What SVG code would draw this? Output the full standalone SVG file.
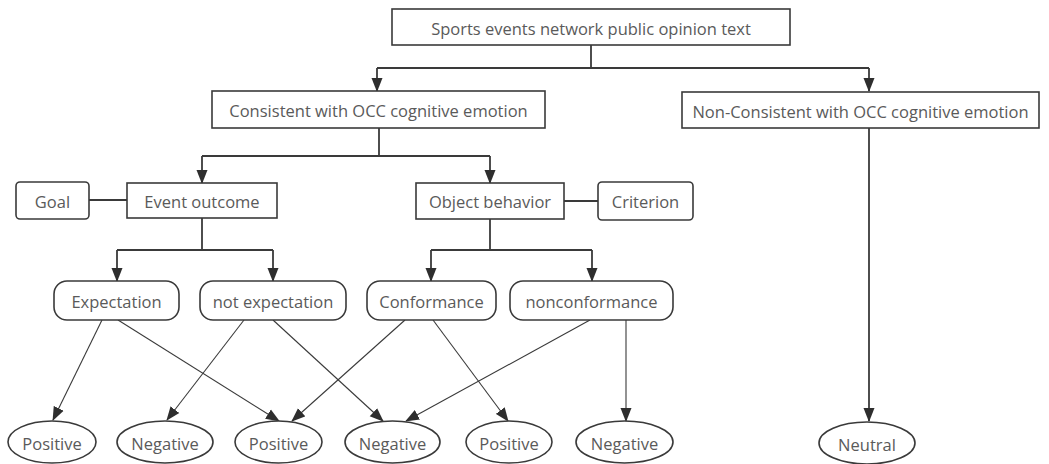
<svg xmlns="http://www.w3.org/2000/svg" width="1049" height="464" viewBox="0 0 1049 464">
  <defs>
    <style>
      .box { fill: #ffffff; stroke: #3a3a3a; stroke-width: 1.6; }
      .lbl { font-family: "Open Sans", "Noto Sans", "Liberation Sans", sans-serif; font-size: 16.5px; fill: #5a5a5a; text-anchor: middle; dominant-baseline: central; }
      .tree { fill: none; stroke: #3a3a3a; stroke-width: 1.8; }
      .diag { fill: none; stroke: #3a3a3a; stroke-width: 1.1; }
    </style>
    <marker id="arrowBig" viewBox="0 0 14 12" refX="13" refY="6" markerWidth="14" markerHeight="12" markerUnits="userSpaceOnUse" orient="auto">
      <path d="M0,0.5 L14,6 L0,11.5 Z" fill="#2e2e2e"/>
    </marker>
    <marker id="arrowSmall" viewBox="0 0 14 12" refX="13" refY="6" markerWidth="14" markerHeight="12" markerUnits="userSpaceOnUse" orient="auto">
      <path d="M0,0.5 L14,6 L0,11.5 Z" fill="#2e2e2e"/>
    </marker>
  </defs>
  <rect width="1049" height="464" fill="#ffffff"/>

  <g id="connectors">
    <!-- root split -->
    <path class="tree" d="M591,45 V68"/>
    <path class="tree" d="M377,68 H869"/>
    <path class="tree" d="M377,68 V91" marker-end="url(#arrowBig)"/>
    <path class="tree" d="M869,68 V91" marker-end="url(#arrowBig)"/>
    <!-- consistent branch -->
    <path class="tree" d="M379,128 V156"/>
    <path class="tree" d="M202,156 H490"/>
    <path class="tree" d="M202,156 V183" marker-end="url(#arrowBig)"/>
    <path class="tree" d="M490,156 V183" marker-end="url(#arrowBig)"/>
    <!-- side links -->
    <path class="tree" d="M89,200 H127"/>
    <path class="tree" d="M564,201 H598"/>
    <!-- event outcome split -->
    <path class="tree" d="M202,218 V250"/>
    <path class="tree" d="M117,250 H273"/>
    <path class="tree" d="M117,250 V281" marker-end="url(#arrowBig)"/>
    <path class="tree" d="M273,250 V281" marker-end="url(#arrowBig)"/>
    <!-- object behavior split -->
    <path class="tree" d="M490,219 V250"/>
    <path class="tree" d="M431,250 H592"/>
    <path class="tree" d="M431,250 V281" marker-end="url(#arrowBig)"/>
    <path class="tree" d="M592,250 V281" marker-end="url(#arrowBig)"/>
    <!-- non-consistent to neutral -->
    <path class="tree" d="M869,128 V421" marker-end="url(#arrowBig)"/>
    <!-- appraisal to polarity -->
    <path class="diag" d="M102,320 L53,420" marker-end="url(#arrowSmall)"/>
    <path class="diag" d="M118,320 L279,421" marker-end="url(#arrowSmall)"/>
    <path class="diag" d="M244,320 L167,420" marker-end="url(#arrowSmall)"/>
    <path class="diag" d="M273,320 L383,421" marker-end="url(#arrowSmall)"/>
    <path class="diag" d="M405,320 L292,421" marker-end="url(#arrowSmall)"/>
    <path class="diag" d="M433,320 L508,421" marker-end="url(#arrowSmall)"/>
    <path class="diag" d="M590,320 L406,421" marker-end="url(#arrowSmall)"/>
    <path class="diag" d="M626,320 L626,421" marker-end="url(#arrowSmall)"/>
  </g>

  <g id="root">
    <rect class="box" x="392" y="9" width="398" height="36"/>
    <text class="lbl" x="591" y="28">Sports events network public opinion text</text>
  </g>
  <g id="consistent">
    <rect class="box" x="212" y="91" width="333" height="37"/>
    <text class="lbl" x="378.5" y="110">Consistent with OCC cognitive emotion</text>
  </g>
  <g id="non-consistent">
    <rect class="box" x="682" y="92" width="357" height="36"/>
    <text class="lbl" x="860.5" y="111">Non-Consistent with OCC cognitive emotion</text>
  </g>
  <g id="goal">
    <rect class="box" x="16" y="182" width="73" height="37" rx="4"/>
    <text class="lbl" x="52.5" y="201">Goal</text>
  </g>
  <g id="event-outcome">
    <rect class="box" x="127" y="183" width="150" height="35"/>
    <text class="lbl" x="202" y="201">Event outcome</text>
  </g>
  <g id="object-behavior">
    <rect class="box" x="416" y="183" width="148" height="36"/>
    <text class="lbl" x="490" y="201">Object behavior</text>
  </g>
  <g id="criterion">
    <rect class="box" x="598" y="182" width="95" height="38" rx="4"/>
    <text class="lbl" x="645.5" y="201">Criterion</text>
  </g>
  <g id="expectation">
    <rect class="box" x="54" y="281" width="125" height="39" rx="13"/>
    <text class="lbl" x="116.5" y="301">Expectation</text>
  </g>
  <g id="not-expectation">
    <rect class="box" x="200" y="281" width="146" height="39" rx="13"/>
    <text class="lbl" x="273" y="301">not expectation</text>
  </g>
  <g id="conformance">
    <rect class="box" x="367" y="281" width="129" height="39" rx="13"/>
    <text class="lbl" x="431.5" y="301">Conformance</text>
  </g>
  <g id="nonconformance">
    <rect class="box" x="510" y="281" width="163" height="39" rx="13"/>
    <text class="lbl" x="591.5" y="301">nonconformance</text>
  </g>
  <g id="positive-1">
    <ellipse class="box" cx="52" cy="442" rx="44" ry="21"/>
    <text class="lbl" x="52" y="443">Positive</text>
  </g>
  <g id="negative-1">
    <ellipse class="box" cx="165" cy="442" rx="48" ry="21"/>
    <text class="lbl" x="165" y="443">Negative</text>
  </g>
  <g id="positive-2">
    <ellipse class="box" cx="278.5" cy="442" rx="43.5" ry="21"/>
    <text class="lbl" x="278.5" y="443">Positive</text>
  </g>
  <g id="negative-2">
    <ellipse class="box" cx="392.5" cy="442" rx="47.5" ry="21"/>
    <text class="lbl" x="392.5" y="443">Negative</text>
  </g>
  <g id="positive-3">
    <ellipse class="box" cx="509" cy="442" rx="43" ry="21"/>
    <text class="lbl" x="509" y="443">Positive</text>
  </g>
  <g id="negative-3">
    <ellipse class="box" cx="624.5" cy="442" rx="48.5" ry="21"/>
    <text class="lbl" x="624.5" y="443">Negative</text>
  </g>
  <g id="neutral">
    <ellipse class="box" cx="867" cy="443" rx="48" ry="21"/>
    <text class="lbl" x="867" y="444">Neutral</text>
  </g>
</svg>
